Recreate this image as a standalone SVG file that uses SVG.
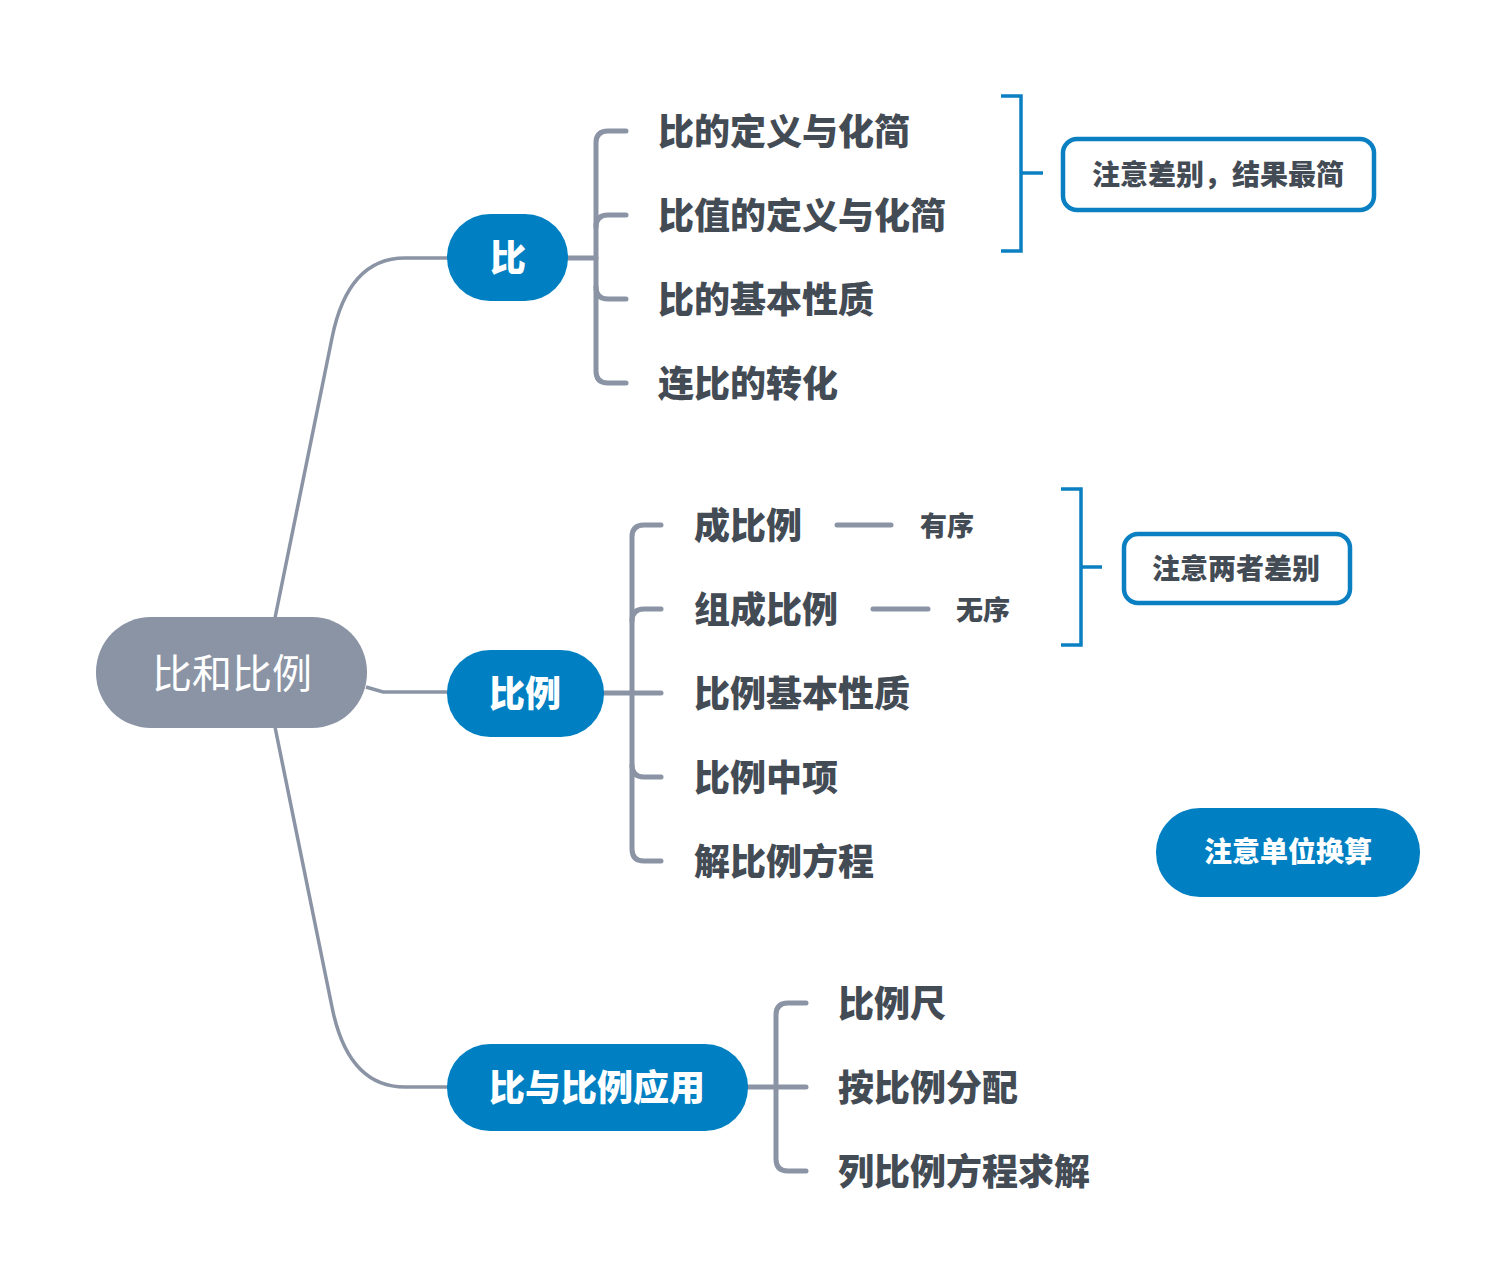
<svg xmlns="http://www.w3.org/2000/svg" width="1497" height="1285" viewBox="0 0 1497 1285">
<style>
.gl{fill:none;stroke:#8a94a5;stroke-width:5;stroke-linecap:round;stroke-linejoin:round}
.gt{fill:none;stroke:#8a94a5;stroke-width:3.5}
.bl{fill:none;stroke:#0a7fc2;stroke-width:3.5;stroke-linecap:butt}
.box{fill:#fff;stroke:#0a7fc2;stroke-width:4.5}
.pill{fill:#0080c2}
.t{font-family:"Noto Sans CJK SC","Noto Sans",sans-serif;dominant-baseline:central}
.lb{font-size:36px;font-weight:900;fill:#434b55}
.sm{font-size:27px;font-weight:900;fill:#434b55}
.wt{font-size:36px;font-weight:900;fill:#fff;text-anchor:middle}
.nt{font-size:28px;font-weight:900;fill:#434b55;text-anchor:middle}
</style>
<rect width="1497" height="1285" fill="#fff"/>
<g id="connectors">
<path class="gt" d="M275,618 L332,338 C342,288 365,258 405,258 L448,258"/>
<path class="gt" d="M366,687 L383,692 L448,692"/>
<path class="gt" d="M275,727 L332,1007 C342,1057 365,1087 405,1087 L448,1087"/>
<path class="gl" d="M567,258 L596,258"/>
<path class="gl" d="M626,131 L608,131 Q596,131 596,143 L596,371 Q596,383 608,383 L626,383"/>
<path class="gl" d="M596,227 Q596,215 608,215 L626,215"/>
<path class="gl" d="M596,287 Q596,299 608,299 L626,299"/>
<path class="gl" d="M603,693 L661,693"/>
<path class="gl" d="M661,525 L644,525 Q632,525 632,537 L632,849 Q632,861 644,861 L661,861"/>
<path class="gl" d="M632,621 Q632,609 644,609 L661,609"/>
<path class="gl" d="M632,765 Q632,777 644,777 L661,777"/>
<path class="gl" d="M747,1087 L806,1087"/>
<path class="gl" d="M806,1003 L788,1003 Q776,1003 776,1015 L776,1159 Q776,1171 788,1171 L806,1171"/>
<path class="gl" d="M837,525 L891,525"/>
<path class="gl" d="M873,609 L928,609"/>
<path class="bl" d="M1001,96 L1021,96 L1021,251 L1001,251 M1021,173 L1043,173"/>
<path class="bl" d="M1061,489 L1081,489 L1081,645 L1061,645 M1081,567 L1102,567"/>
</g>
<g id="root">
<rect x="96" y="617" width="271" height="111" rx="55" fill="#8a94a5"/>
<text class="t" x="232" y="671" font-size="40" fill="#fff" text-anchor="middle">比和比例</text>
</g>
<g id="n-bi">
<rect class="pill" x="447" y="214" width="121" height="87" rx="43"/>
<text class="t wt" x="508" y="255">比</text>
</g>
<g id="n-bili">
<rect class="pill" x="447" y="650" width="157" height="87" rx="43"/>
<text class="t wt" x="525" y="691">比例</text>
</g>
<g id="n-app">
<rect class="pill" x="447" y="1044" width="301" height="87" rx="43"/>
<text class="t wt" x="597" y="1085">比与比例应用</text>
</g>
<g id="l1"><text class="t lb" x="658" y="129">比的定义与化简</text></g>
<g id="l2"><text class="t lb" x="658" y="213">比值的定义与化简</text></g>
<g id="l3"><text class="t lb" x="658" y="297">比的基本性质</text></g>
<g id="l4"><text class="t lb" x="658" y="381">连比的转化</text></g>
<g id="l5"><text class="t lb" x="694" y="523">成比例</text></g>
<g id="l6"><text class="t lb" x="694" y="607">组成比例</text></g>
<g id="l7"><text class="t lb" x="694" y="691">比例基本性质</text></g>
<g id="l8"><text class="t lb" x="694" y="775">比例中项</text></g>
<g id="l9"><text class="t lb" x="694" y="859">解比例方程</text></g>
<g id="l10"><text class="t lb" x="838" y="1001">比例尺</text></g>
<g id="l11"><text class="t lb" x="838" y="1085">按比例分配</text></g>
<g id="l12"><text class="t lb" x="838" y="1169">列比例方程求解</text></g>
<g id="s1"><text class="t sm" x="920" y="524">有序</text></g>
<g id="s2"><text class="t sm" x="956" y="608">无序</text></g>
<g id="note1">
<rect class="box" x="1063" y="139" width="311" height="71" rx="14"/>
<text class="t nt" x="1218" y="173">注意差别，结果最简</text>
</g>
<g id="note2">
<rect class="box" x="1124" y="534" width="226" height="69" rx="14"/>
<text class="t nt" x="1236" y="567">注意两者差别</text>
</g>
<g id="note3">
<rect class="pill" x="1156" y="808" width="264" height="89" rx="44"/>
<text class="t nt" x="1288" y="850" style="fill:#fff">注意单位换算</text>
</g>
</svg>
